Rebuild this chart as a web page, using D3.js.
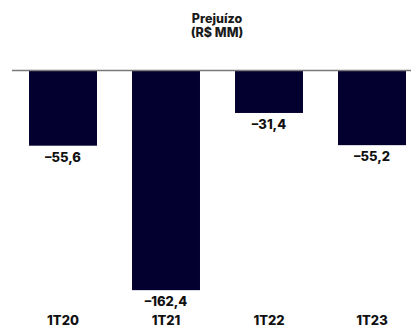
<!DOCTYPE html>
<html>
<head>
<meta charset="utf-8">
<script src="https://cdn.jsdelivr.net/npm/d3@7"></script>
<style>
  html, body { margin: 0; padding: 0; background: #fff; }
  svg { display: block; font-family: Inter, "Open Sans", sans-serif; }
</style>
</head>
<body>
<svg id="chart" width="411" height="329"></svg>
<script>
// Quarterly loss, R$ millions
const quarters = ["1T20", "1T21", "1T22", "1T23"];
const losses = [-55.6, -162.4, -31.4, -55.2];
const titleLines = ["Prejuízo", "(R$ MM)"];

const svg = d3.select("#chart");
const W = 411, H = 329;
const zeroY = 70.5;

const x = d3.scaleBand()
  .domain(quarters)
  .range([11.5, 423.5])
  .paddingInner(0.34)
  .paddingOuter(0.17);

const y = d3.scaleLinear()
  .domain([-170, 0])
  .range([zeroY + 170 * 1.3525, zeroY]);

const fmt = v => (v < 0 ? "–" : "") + d3.format(".1f")(Math.abs(v)).replace(".", ",");

// title
svg.append("g")
  .selectAll("text")
  .data(titleLines)
  .join("text")
  .attr("x", 217)
  .attr("y", (d, i) => 23 + i * 14)
  .attr("text-anchor", "middle")
  .attr("font-size", 12.5)
  .attr("font-weight", 800)
  .attr("fill", "#1a1a1a")
  .text(d => d);

// bars
svg.append("g")
  .selectAll("rect")
  .data(quarters)
  .join("rect")
  .attr("x", d => x(d))
  .attr("width", x.bandwidth())
  .attr("y", y(0))
  .attr("height", (d, i) => y(losses[i]) - y(0))
  .attr("fill", "#03002f");

// zero line
svg.append("line")
  .attr("x1", 12).attr("x2", W)
  .attr("y1", y(0)).attr("y2", y(0))
  .attr("stroke", "#7a7a7a")
  .attr("stroke-width", 1.5);

// value labels
svg.append("g")
  .selectAll("text")
  .data(quarters)
  .join("text")
  .attr("x", d => x(d) + x.bandwidth() / 2)
  .attr("y", (d, i) => y(losses[i]) + 16)
  .attr("text-anchor", "middle")
  .attr("font-size", 13)
  .attr("font-weight", 800)
  .attr("fill", "#111")
  .text((d, i) => fmt(losses[i]));

// category axis
const xAxis = svg.append("g")
  .attr("transform", `translate(0, ${H - 4})`)
  .call(d3.axisBottom(x).tickSize(0).tickPadding(0));
xAxis.select(".domain").remove();
xAxis.selectAll("text")
  .attr("dy", 0)
  .attr("y", 0)
  .attr("font-size", 13)
  .attr("font-weight", 800)
  .attr("font-family", "Inter, sans-serif")
  .attr("fill", "#111");
</script>
</body>
</html>
